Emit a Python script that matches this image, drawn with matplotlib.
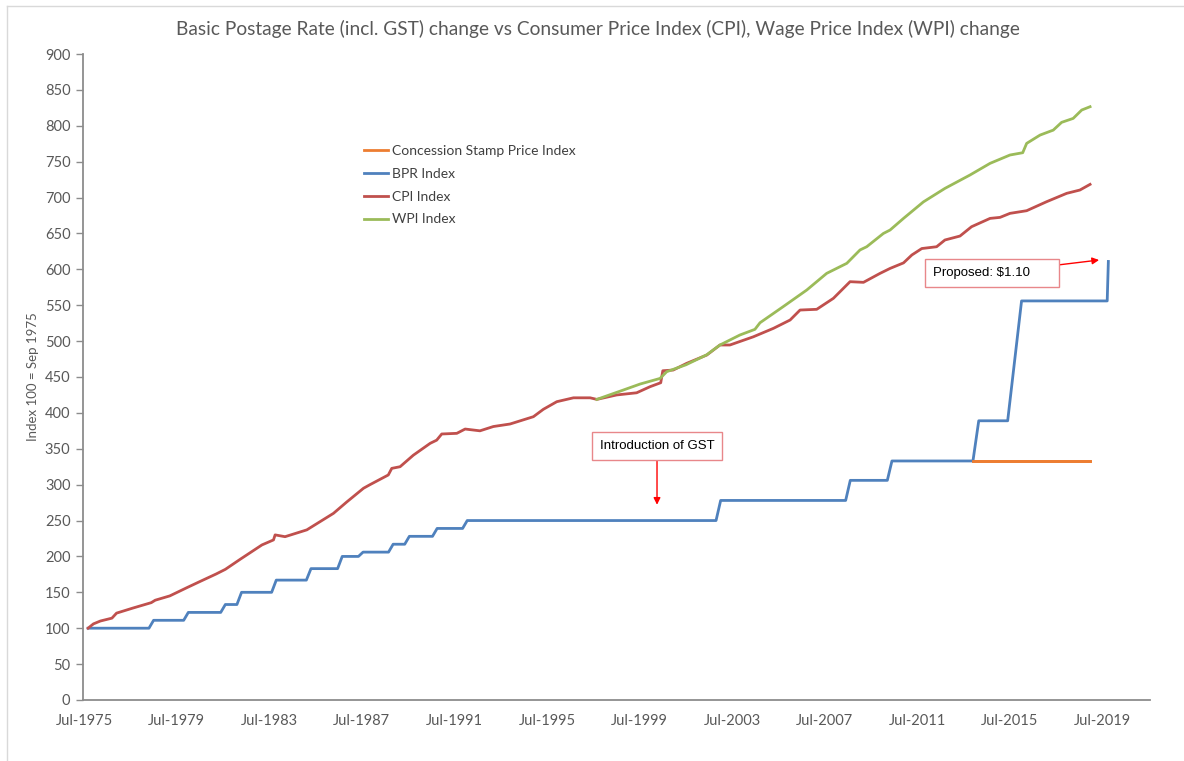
import matplotlib
matplotlib.use('Agg')
import matplotlib.pyplot as plt
from matplotlib.lines import Line2D

# dates as decimal years, index 100 = Sep 1975
bpr_dates = [1975.67, 1978.3, 1978.5, 1979.8, 1980.0, 1981.4, 1981.6, 1982.1, 1982.3,
             1983.6, 1983.8, 1985.1, 1985.3, 1986.45, 1986.65, 1987.35, 1987.55,
             1988.65, 1988.85, 1989.35, 1989.55, 1990.55, 1990.75, 1991.85, 1992.05,
             2002.8, 2003.0, 2008.4, 2008.6, 2010.2, 2010.4, 2013.9, 2014.15,
             2015.4, 2016.0, 2019.7, 2019.75]
bpr_vals = [100, 100, 111, 111, 122, 122, 133, 133, 150, 150, 167, 167, 183, 183, 200,
            200, 206, 206, 217, 217, 228, 228, 239, 239, 250, 250, 278, 278, 306, 306,
            333, 333, 389, 389, 556, 556, 611]

conc_dates = [2013.9, 2018.96]
conc_vals = [333, 333]

cpi_dates = [1975.67, 1975.9, 1976.2, 1976.7, 1976.9, 1977.6, 1978.4, 1978.57, 1979.2,
             1979.94, 1980.5, 1981.2, 1981.6, 1982.24, 1983.18, 1983.68, 1983.75,
             1984.18, 1985.12, 1986.27, 1986.85, 1987.57, 1987.85, 1988.64, 1988.79,
             1989.15, 1989.72, 1990.45, 1990.73, 1990.95, 1991.6, 1991.96, 1992.6,
             1993.18, 1993.9, 1994.91, 1995.34, 1995.92, 1996.64, 1997.36, 1997.65,
             1998.51, 1999.37, 1999.95, 2000.41, 2000.5, 2000.95, 2001.53, 2002.4,
             2002.97, 2003.4, 2004.41, 2005.28, 2006.0, 2006.43, 2007.15, 2007.87,
             2008.59, 2009.17, 2009.88, 2010.32, 2010.9, 2011.26, 2011.69, 2012.33,
             2012.69, 2013.34, 2013.84, 2014.64, 2015.07, 2015.5, 2016.22, 2017.08,
             2017.95, 2018.52, 2018.96]
cpi_vals = [100, 106, 110, 114, 121, 128, 135.6, 139, 145, 156.5, 165, 175.5, 182, 196,
            216, 223, 230, 227.5, 237, 260, 276, 295, 300, 313.5, 322.7, 325, 341, 357.6,
            362, 370.6, 371.5, 377.5, 375, 381, 384.5, 394.7, 405, 415.6, 421, 421,
            418.8, 425, 428, 436.5, 442, 458.7, 459.7, 469, 480.6, 494.6, 494.6, 506,
            517.8, 529.4, 543.3, 544.3, 559.6, 582.8, 581.9, 594.3, 601.3, 609, 620,
            629, 631.5, 640.9, 646.4, 659.4, 671, 672.4, 678, 681.7, 694.2, 705.9,
            710.5, 718.4]

wpi_dates = [1997.65, 1998.8, 1999.52, 2000.38, 2000.67, 2001.5, 2002.4, 2002.97,
             2003.83, 2004.48, 2004.7, 2005.7, 2006.72, 2007.58, 2008.45, 2009.02,
             2009.31, 2010.03, 2010.32, 2010.9, 2011.76, 2012.69, 2013.77, 2014.64,
             2015.5, 2016.05, 2016.22, 2016.8, 2017.37, 2017.73, 2018.23, 2018.6,
             2018.96]
wpi_vals = [418.8, 431.9, 440.2, 448, 457.4, 467, 481, 494.6, 508.5, 516.4, 525.6, 548,
            571.2, 594.4, 608.4, 627, 631.5, 650, 654.8, 671, 694, 712.8, 731.4, 747.7,
            759.3, 762.5, 775.5, 787.1, 794, 804.8, 810.3, 822, 826.6]

tick_years = [1975.5 + 4 * i for i in range(12)]
tick_labels = ['Jul-%d' % (1975 + 4 * i) for i in range(12)]

fig = plt.figure(figsize=(11.84, 7.61), dpi=100)
ax = fig.add_axes([0.0701, 0.0802, 0.9012, 0.8488])

ax.plot(conc_dates, conc_vals, color='#ED7D31', lw=2.0, label='Concession Stamp Price Index')
ax.plot(bpr_dates, bpr_vals, color='#4F81BD', lw=2.0, label='BPR Index')
ax.plot(cpi_dates, cpi_vals, color='#C0504D', lw=2.0, label='CPI Index')
ax.plot(wpi_dates, wpi_vals, color='#9BBB59', lw=2.0, label='WPI Index')
# redraw orange on top of blue where they overlap
ax.plot(conc_dates, conc_vals, color='#ED7D31', lw=2.0)

ax.set_xlim(1975.45, 2021.55)
ax.set_ylim(0, 900)
ax.set_yticks(range(0, 901, 50))
ax.set_xticks(tick_years)
ax.set_xticklabels(tick_labels)

for s in ['top', 'right']:
    ax.spines[s].set_visible(False)
for s in ['left', 'bottom']:
    ax.spines[s].set_color('#8c8c8c')
    ax.spines[s].set_linewidth(1.3)
ax.tick_params(axis='y', length=5, width=1.0, color='#8c8c8c', labelsize=10.5,
               labelcolor='#595959', pad=4)
ax.tick_params(axis='x', length=0, labelsize=10.5, labelcolor='#595959', pad=10)
for lab in ax.get_xticklabels() + ax.get_yticklabels():
    lab.set_family('Lato')

ax.set_ylabel('Index 100 = Sep 1975', fontsize=9.5, color='#595959', family='Lato', labelpad=4)

fig.suptitle('Basic Postage Rate (incl. GST) change vs Consumer Price Index (CPI), Wage Price Index (WPI) change',
             x=0.505, y=0.974, fontsize=13.8, color='#595959', family='Lato')

leg = ax.legend(loc='upper left', bbox_to_anchor=(0.297, 0.826), bbox_transform=fig.transFigure,
                frameon=False, handlelength=1.75, handletextpad=0.25,
                labelspacing=0.78, prop={'family': 'Lato', 'size': 10})
for t in leg.get_texts():
    t.set_color('#404040')

box = dict(boxstyle='square,pad=0.6', fc='white', ec='#E8878A', lw=1.0)
ax.annotate('Introduction of GST', xy=(2000.25, 272), xytext=(2000.25, 354),
            ha='center', va='center', fontsize=9.5, family='Liberation Sans', bbox=box,
            arrowprops=dict(arrowstyle='-|>', color='#FF0000', lw=1.0, mutation_scale=10,
                            shrinkA=0, shrinkB=0))
ax.annotate('Proposed: $1.10      ', xy=(2019.35, 613), xytext=(2014.72, 595),
            ha='center', va='center', fontsize=9.5, family='Liberation Sans', bbox=box,
            arrowprops=dict(arrowstyle='-|>', color='#FF0000', lw=1.0, mutation_scale=10,
                            shrinkA=0, shrinkB=0))

# outer chart border (left and top)
fig.add_artist(Line2D([0.006, 0.006], [0.0, 0.992], transform=fig.transFigure, color='#d9d9d9', lw=1.0))
fig.add_artist(Line2D([0.006, 1.0], [0.992, 0.992], transform=fig.transFigure, color='#d9d9d9', lw=1.0))

fig.savefig('out.png', dpi=100)
